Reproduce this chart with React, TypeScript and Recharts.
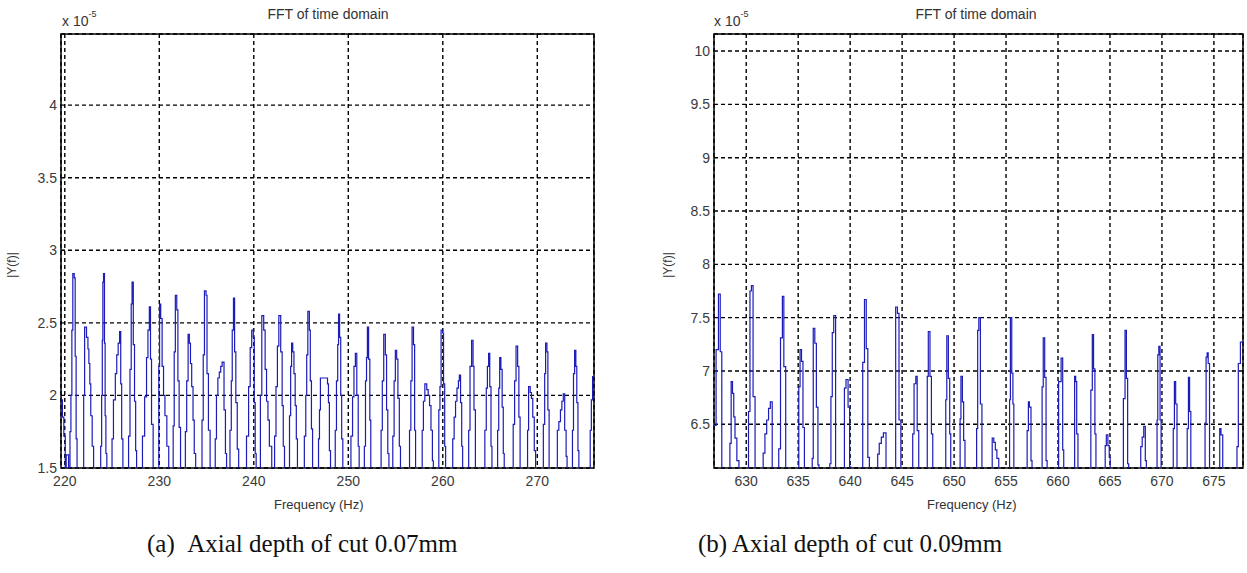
import { CartesianGrid, Line, LineChart, ReferenceArea, XAxis, YAxis } from 'recharts'

// FFT magnitude, |Y(f)| x 1e-5: [frequency Hz, magnitude]
const spectrum007: [number, number][] = [
  [219.6, 1.97], [219.75, 1.85], [219.9, 1.72], [220.05, 1.4], [220.15, 1.59], [220.4, 1.4],
  [220.55, 1.75], [220.65, 2.0], [220.75, 2.45], [220.85, 2.84], [221.0, 2.81], [221.1, 2.27], [221.2, 1.7], [221.3, 1.4],
  [221.95, 1.4], [222.0, 2.0], [222.1, 2.47], [222.3, 2.4], [222.45, 2.32], [222.55, 2.22], [222.65, 2.08], [222.75, 1.86], [222.9, 1.65], [223.05, 1.4],
  [223.75, 1.4], [223.8, 1.65], [223.9, 2.0], [223.97, 2.38], [224.03, 2.78], [224.1, 2.84], [224.2, 2.36], [224.27, 1.86], [224.35, 1.6], [224.45, 1.4],
  [224.95, 1.4], [225.0, 1.7], [225.15, 1.97], [225.35, 2.15], [225.5, 2.28], [225.65, 2.36], [225.8, 2.44], [225.92, 2.08], [226.02, 1.7], [226.15, 1.4],
  [226.65, 1.4], [226.75, 1.72], [226.9, 2.18], [227.03, 2.63], [227.12, 2.78], [227.25, 2.35], [227.38, 1.96], [227.5, 1.62], [227.6, 1.4],
  [228.15, 1.4], [228.22, 1.72], [228.45, 1.99], [228.65, 2.26], [228.8, 2.45], [228.95, 2.61], [229.07, 2.25], [229.18, 1.8], [229.35, 1.4],
  [229.85, 1.4], [229.95, 2.2], [230.03, 2.63], [230.15, 2.53], [230.3, 2.2], [230.45, 2.0], [230.6, 1.86], [230.8, 1.65], [231.0, 1.4],
  [231.4, 1.4], [231.47, 1.79], [231.58, 2.3], [231.7, 2.69], [231.85, 2.59], [231.97, 2.1], [232.1, 1.78], [232.25, 1.4],
  [232.7, 1.4], [232.76, 1.75], [232.9, 2.1], [233.05, 2.42], [233.18, 2.36], [233.3, 2.22], [233.43, 2.06], [233.57, 1.83], [233.7, 1.6], [233.85, 1.4],
  [234.45, 1.4], [234.52, 1.83], [234.65, 2.28], [234.78, 2.72], [234.95, 2.69], [235.05, 2.15], [235.2, 1.76], [235.38, 1.4],
  [235.85, 1.4], [235.92, 1.7], [236.05, 2.0], [236.2, 2.12], [236.35, 2.16], [236.5, 2.2], [236.65, 2.23], [236.85, 1.9], [237.0, 1.6], [237.12, 1.4],
  [237.4, 1.4], [237.48, 1.76], [237.62, 2.1], [237.72, 2.45], [237.85, 2.67], [237.97, 2.3], [238.1, 1.95], [238.25, 1.63], [238.4, 1.4],
  [239.15, 1.4], [239.23, 1.72], [239.45, 2.06], [239.62, 2.33], [239.78, 2.45], [239.95, 2.4], [240.05, 1.95], [240.15, 1.6], [240.25, 1.4],
  [240.6, 1.4], [240.7, 2.0], [240.85, 2.55], [241.05, 2.45], [241.2, 2.18], [241.35, 1.96], [241.5, 1.83], [241.65, 1.65], [241.9, 1.4],
  [242.15, 1.4], [242.2, 1.72], [242.35, 2.06], [242.5, 2.34], [242.65, 2.55], [242.85, 2.3], [243.0, 1.93], [243.12, 1.65], [243.25, 1.4],
  [243.7, 1.4], [243.78, 1.86], [243.9, 2.2], [244.0, 2.36], [244.12, 2.3], [244.25, 2.15], [244.38, 1.93], [244.5, 1.7], [244.62, 1.4],
  [245.3, 1.4], [245.35, 1.72], [245.5, 2.0], [245.6, 2.28], [245.72, 2.58], [245.88, 2.45], [245.98, 2.1], [246.1, 1.77], [246.22, 1.4],
  [246.75, 1.4], [246.85, 1.7], [246.95, 1.9], [247.05, 2.12], [247.8, 2.08], [247.9, 1.95], [248.0, 1.62], [248.12, 1.4],
  [248.55, 1.4], [248.62, 1.76], [248.75, 2.1], [248.88, 2.35], [248.97, 2.56], [249.08, 2.4], [249.2, 2.0], [249.3, 1.7], [249.42, 1.4],
  [250.2, 1.4], [250.28, 1.72], [250.45, 1.99], [250.6, 2.2], [250.75, 2.29], [250.9, 2.0], [251.05, 1.65], [251.15, 1.4],
  [251.62, 1.4], [251.7, 1.65], [251.82, 2.1], [251.93, 2.26], [252.02, 2.47], [252.15, 2.25], [252.28, 1.83], [252.38, 1.4],
  [253.4, 1.4], [253.47, 1.76], [253.6, 2.1], [253.75, 2.42], [253.92, 2.28], [254.05, 1.9], [254.18, 1.6], [254.3, 1.4],
  [254.65, 1.4], [254.71, 1.72], [254.85, 2.1], [254.98, 2.31], [255.12, 2.25], [255.25, 1.98], [255.4, 1.65], [255.52, 1.4],
  [256.4, 1.4], [256.48, 1.76], [256.62, 2.1], [256.75, 2.47], [256.9, 2.35], [257.02, 1.76], [257.12, 1.4],
  [257.75, 1.4], [257.82, 1.76], [257.95, 1.96], [258.1, 2.08], [258.3, 2.04], [258.45, 2.0], [258.6, 1.93], [258.75, 1.76], [258.9, 1.55], [259.0, 1.4],
  [259.5, 1.4], [259.58, 1.9], [259.7, 2.06], [259.82, 2.45], [259.98, 2.43], [260.08, 2.08], [260.2, 1.65], [260.3, 1.4],
  [260.95, 1.4], [261.05, 1.7], [261.2, 1.85], [261.35, 1.96], [261.5, 2.05], [261.65, 2.1], [261.75, 2.14], [261.88, 1.95], [262.0, 1.65], [262.1, 1.4],
  [262.65, 1.4], [262.74, 1.76], [262.88, 2.2], [263.05, 2.38], [263.2, 2.2], [263.3, 1.9], [263.45, 1.4],
  [264.38, 1.4], [264.45, 1.76], [264.6, 2.05], [264.72, 2.2], [264.85, 2.29], [264.97, 2.06], [265.1, 1.65], [265.2, 1.4],
  [265.72, 1.4], [265.8, 1.76], [265.92, 2.05], [266.02, 2.26], [266.15, 2.18], [266.28, 1.92], [266.4, 1.6], [266.5, 1.4],
  [267.38, 1.4], [267.45, 1.8], [267.6, 2.1], [267.75, 2.34], [267.92, 2.2], [268.05, 1.85], [268.18, 1.4],
  [268.88, 1.4], [268.97, 1.76], [269.08, 2.06], [269.25, 2.02], [269.38, 1.98], [269.52, 1.85], [269.68, 1.62], [269.82, 1.4],
  [270.55, 1.4], [270.64, 1.8], [270.78, 2.15], [270.88, 2.36], [271.02, 2.3], [271.12, 1.9], [271.25, 1.4],
  [272.05, 1.4], [272.12, 1.76], [272.28, 1.82], [272.45, 1.9], [272.6, 1.96], [272.75, 2.01], [272.9, 1.76], [273.05, 1.58], [273.15, 1.4],
  [273.65, 1.4], [273.72, 1.76], [273.83, 2.15], [273.95, 2.31], [274.08, 2.2], [274.18, 1.95], [274.3, 1.62], [274.4, 1.4],
  [275.5, 1.4], [275.6, 1.76], [275.72, 1.97], [275.85, 2.13], [276.0, 2.13],
]

const spectrum009: [number, number][] = [
  [626.9, 6.49], [627.1, 7.2], [627.33, 7.72], [627.5, 7.18], [627.65, 5.9],
  [628.35, 5.9], [628.43, 6.32], [628.55, 6.9], [628.68, 6.79], [628.8, 6.57], [628.92, 6.37], [629.1, 6.16], [629.3, 5.9],
  [630.15, 5.9], [630.22, 6.62], [630.36, 7.75], [630.5, 7.8], [630.66, 6.76], [630.85, 5.9],
  [631.55, 5.9], [631.63, 6.23], [631.8, 6.41], [631.97, 6.54], [632.15, 6.65], [632.32, 6.71], [632.5, 5.9],
  [633.05, 5.9], [633.13, 6.27], [633.3, 7.31], [633.48, 7.7], [633.62, 7.04], [633.8, 5.9],
  [634.98, 5.9], [635.06, 6.85], [635.18, 7.2], [635.32, 7.09], [635.46, 6.47], [635.6, 5.9],
  [636.28, 5.9], [636.35, 6.18], [636.45, 7.4], [636.6, 7.26], [636.75, 6.66], [636.9, 6.12], [637.0, 5.9],
  [637.95, 5.9], [638.04, 6.13], [638.15, 6.76], [638.28, 7.36], [638.42, 7.52], [638.6, 5.9],
  [639.38, 5.9], [639.45, 6.84], [639.6, 6.92], [639.8, 6.66], [639.95, 6.1], [640.05, 5.9],
  [641.12, 5.9], [641.21, 7.08], [641.38, 7.67], [641.55, 7.21], [641.7, 6.19], [641.85, 5.9],
  [642.58, 5.9], [642.65, 6.22], [642.8, 6.32], [643.0, 6.38], [643.2, 6.42], [643.45, 5.9],
  [644.3, 5.9], [644.38, 7.6], [644.55, 7.54], [644.7, 6.54], [644.88, 5.9],
  [645.95, 5.9], [646.02, 6.41], [646.15, 6.88], [646.32, 6.95], [646.45, 6.44], [646.6, 5.9],
  [647.35, 5.9], [647.42, 6.95], [647.52, 7.37], [647.68, 6.95], [647.82, 6.41], [647.95, 5.9],
  [649.12, 5.9], [649.2, 6.73], [649.3, 7.33], [649.45, 6.93], [649.58, 6.41], [649.68, 5.9],
  [650.5, 5.9], [650.58, 6.55], [650.66, 6.95], [650.8, 6.71], [650.92, 6.35], [651.05, 5.9],
  [652.1, 5.9], [652.17, 6.46], [652.27, 7.38], [652.38, 7.5], [652.53, 6.69], [652.68, 5.9],
  [653.6, 5.9], [653.67, 6.37], [653.82, 6.33], [653.97, 6.26], [654.12, 6.18], [654.3, 5.9],
  [655.28, 5.9], [655.34, 6.73], [655.42, 7.5], [655.55, 6.98], [655.66, 6.69], [655.75, 5.9],
  [656.96, 5.9], [657.03, 6.44], [657.15, 6.71], [657.25, 6.66], [657.4, 6.16], [657.5, 5.9],
  [658.4, 5.9], [658.47, 6.85], [658.58, 7.31], [658.72, 6.94], [658.85, 6.16], [658.95, 5.9],
  [659.98, 5.9], [660.06, 6.9], [660.3, 7.12], [660.45, 6.26], [660.55, 5.9],
  [661.52, 5.9], [661.6, 6.95], [661.7, 6.9], [661.8, 6.41], [661.92, 5.9],
  [663.08, 5.9], [663.16, 6.82], [663.3, 7.34], [663.42, 7.02], [663.55, 6.41], [663.65, 5.9],
  [664.46, 5.9], [664.54, 6.3], [664.65, 6.4], [664.8, 6.3], [664.93, 6.19], [665.02, 5.9],
  [666.22, 5.9], [666.29, 6.74], [666.45, 7.38], [666.58, 6.93], [666.7, 6.13], [666.8, 5.9],
  [667.9, 5.9], [667.96, 6.29], [668.1, 6.38], [668.25, 6.48], [668.4, 6.16], [668.5, 5.9],
  [669.46, 5.9], [669.53, 6.54], [669.6, 7.15], [669.7, 7.23], [669.82, 6.54], [669.92, 5.9],
  [671.02, 5.9], [671.09, 6.46], [671.2, 6.9], [671.32, 6.69], [671.45, 5.9],
  [672.36, 5.9], [672.43, 6.46], [672.55, 6.94], [672.66, 6.62], [672.78, 5.9],
  [674.08, 5.9], [674.15, 6.51], [674.25, 7.13], [674.35, 7.17], [674.45, 7.07], [674.58, 5.9],
  [675.5, 5.9], [675.56, 6.46], [675.68, 6.4], [675.85, 5.9],
  [677.15, 5.9], [677.22, 6.29], [677.35, 7.07], [677.55, 7.27], [677.8, 7.27],
]

const xTicks007 = [220, 230, 240, 250, 260, 270]
const yTicks007 = [1.5, 2, 2.5, 3, 3.5, 4]
const xTicks009 = [630, 635, 640, 645, 650, 655, 660, 665, 670, 675]
const yTicks009 = [6.5, 7, 7.5, 8, 8.5, 9, 9.5, 10]

const FONT = '"Liberation Sans", Arial, sans-serif'
const SERIF = '"Liberation Serif", "Times New Roman", serif'
const tickStyle = { fill: '#3a3a3a', fontSize: 14, fontFamily: FONT }

interface PanelProps {
  points: [number, number][]
  xDomain: [number, number]
  yDomain: [number, number]
  xTicks: number[]
  yTicks: number[]
  width: number
  marginLeft: number
  marginRight: number
}

function FftPanel({ points, xDomain, yDomain, xTicks, yTicks, width, marginLeft, marginRight }: PanelProps) {
  const data = points.map(([f, v]) => ({ f, v }))
  return (
    <LineChart
      width={width}
      height={520}
      data={data}
      margin={{ top: 34, right: marginRight, left: marginLeft, bottom: 22 }}
    >
      <CartesianGrid stroke="#000" strokeDasharray="4 3" strokeWidth={1.4} />
      <XAxis
        dataKey="f"
        type="number"
        domain={xDomain}
        ticks={xTicks}
        allowDataOverflow
        axisLine={false}
        tickLine={false}
        tickSize={0}
        tickMargin={8}
        height={30}
        tick={tickStyle}
      />
      <YAxis
        type="number"
        domain={yDomain}
        ticks={yTicks}
        allowDataOverflow
        axisLine={false}
        tickLine={false}
        tickSize={0}
        tickMargin={4}
        width={40}
        tick={tickStyle}
      />
      <Line
        type="stepAfter"
        dataKey="v"
        stroke="#1c1cb8"
        strokeWidth={1.2}
        dot={false}
        isAnimationActive={false}
      />
      <ReferenceArea
        x1={xDomain[0]}
        x2={xDomain[1]}
        y1={yDomain[0]}
        y2={yDomain[1]}
        fill="none"
        stroke="#000"
        strokeWidth={1.5}
        fillOpacity={0}
      />
    </LineChart>
  )
}

const abs = (left: number, top: number, extra: React.CSSProperties = {}): React.CSSProperties => ({
  position: 'absolute',
  left,
  top,
  whiteSpace: 'nowrap',
  fontFamily: FONT,
  color: '#333',
  ...extra,
})

function Exponent({ left }: { left: number }) {
  return (
    <div style={abs(left, 12, { fontSize: 14 })}>
      x 10<sup style={{ fontSize: 9, position: 'relative', top: -3 }}>-5</sup>
    </div>
  )
}

export default function App() {
  return (
    <div style={{ position: 'absolute', left: 0, top: 0, width: 1247, height: 573, background: '#fff', overflow: 'hidden' }}>
      <div style={{ position: 'absolute', left: 0, top: 0 }}>
        <FftPanel
          points={spectrum007}
          xDomain={[219.6, 276]}
          yDomain={[1.5, 4.49]}
          xTicks={xTicks007}
          yTicks={yTicks007}
          width={620}
          marginLeft={21}
          marginRight={26}
        />
      </div>
      <div style={{ position: 'absolute', left: 620, top: 0 }}>
        <FftPanel
          points={spectrum009}
          xDomain={[626.9, 677.8]}
          yDomain={[6.09, 10.16]}
          xTicks={xTicks009}
          yTicks={yTicks009}
          width={627}
          marginLeft={54}
          marginRight={4}
        />
      </div>

      <div style={abs(258, 6, { fontSize: 14, width: 140, textAlign: 'center' })}>FFT of time domain</div>
      <div style={abs(908, 6, { fontSize: 14, width: 136, textAlign: 'center' })}>FFT of time domain</div>
      <Exponent left={62} />
      <Exponent left={714} />

      <div style={abs(274, 497, { fontSize: 13 })}>Frequency (Hz)</div>
      <div style={abs(927, 497, { fontSize: 13 })}>Frequency (Hz)</div>

      <div style={abs(-1, 258, { fontSize: 12, transform: 'rotate(-90deg)' })}>|Y(f)|</div>
      <div style={abs(655, 258, { fontSize: 12, transform: 'rotate(-90deg)' })}>|Y(f)|</div>

      <div style={abs(147, 530, { fontSize: 25, fontFamily: SERIF, color: '#111' })}>
        (a)&nbsp;&nbsp;Axial depth of cut 0.07mm
      </div>
      <div style={abs(698, 530, { fontSize: 25, fontFamily: SERIF, color: '#111' })}>
        (b) Axial depth of cut 0.09mm
      </div>
    </div>
  )
}
